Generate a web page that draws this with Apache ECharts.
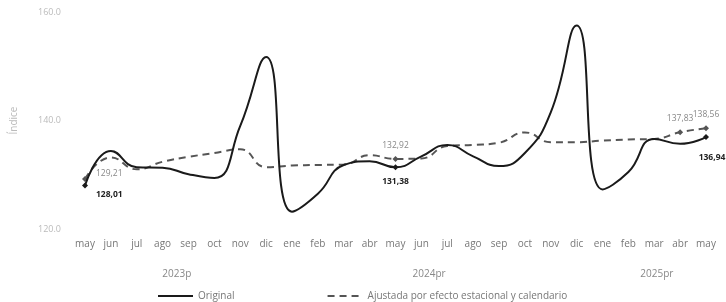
<!DOCTYPE html>
<html>
<head>
<meta charset="utf-8">
<script src="https://cdn.jsdelivr.net/npm/echarts@6/dist/echarts.min.js"></script>
<style>
  html, body { margin: 0; padding: 0; background: #fff; }
  #main { width: 726px; height: 302px; }
</style>
</head>
<body>
<div id="main"></div>
<script>
// meses (may 2023 - may 2025)
var months = ['may', 'jun', 'jul', 'ago', 'sep', 'oct', 'nov', 'dic', 'ene', 'feb', 'mar', 'abr',
    'may', 'jun', 'jul', 'ago', 'sep', 'oct', 'nov', 'dic', 'ene', 'feb', 'mar', 'abr', 'may'];
// indice original
var original = [128.01, 134.4, 131.4, 131.3, 130.1, 129.4, 139.0, 151.7, 123.2, 126.5, 131.8, 132.5,
    131.38, 133.4, 135.5, 133.4, 131.6, 134.0, 141.5, 157.5, 127.3, 130.5, 136.6, 135.7, 136.94];
// ajustada por efecto estacional y calendario
var adjusted = [129.21, 133.2, 131.0, 132.4, 133.3, 134.0, 134.7, 131.4, 131.7, 131.8, 131.9, 133.6,
    132.92, 133.0, 135.3, 135.5, 135.9, 137.8, 136.0, 136.0, 136.3, 136.5, 136.6, 137.83, 138.56];
// puntos con etiqueta
var originalLabeled = [0, 12, 24];
var adjustedLabeled = [0, 12, 23, 24];
// años bajo el eje
var years = ['2023p', '2024pr', '2025pr'];
var yearPos = [3.55, 13.3, 22.1];

function fmt(v) {
    return v.toFixed(2).replace('.', ',');
}

// etiqueta de cada punto: [posicion, offset]
function labelPlace(series, i, n) {
    if (i === 0) {
        return series === 'adj' ? ['right', [3, -5]] : ['right', [3, 9]];
    }
    if (series === 'orig' && i === n - 1) {
        return ['bottom', [6, 8]];
    }
    return series === 'adj' ? ['top', [0, -1]] : ['bottom', [0, 2]];
}

function buildData(values, labeled, series, color, weight) {
    var out = [];
    for (var i = 0; i < values.length; i++) {
        if (labeled.indexOf(i) >= 0) {
            var p = labelPlace(series, i, values.length);
            out.push({
                value: values[i],
                symbol: 'diamond',
                symbolSize: 6,
                label: {
                    show: true,
                    position: p[0],
                    offset: p[1],
                    formatter: fmt(values[i]),
                    color: color,
                    fontWeight: weight,
                    fontSize: 8.5,
                    fontFamily: 'Open Sans'
                }
            });
        } else {
            out.push(values[i]);
        }
    }
    return out;
}

var myChart = echarts.init(document.getElementById('main'));

var option = {
    animation: false,
    textStyle: { fontFamily: 'Open Sans' },
    grid: { left: 85, right: 20, top: 12, bottom: 73 },
    legend: {
        left: 152,
        top: 286,
        itemWidth: 35,
        itemHeight: 8,
        itemGap: 92,
        itemStyle: { opacity: 0 },
        textStyle: { color: '#777', fontSize: 10 },
        data: ['Original', 'Ajustada por efecto estacional y calendario']
    },
    xAxis: [{
        type: 'category',
        data: months,
        boundaryGap: false,
        axisLine: { show: false },
        axisTick: { show: false },
        axisLabel: { color: '#777', fontSize: 10, margin: 10, interval: 0 }
    }, {
        type: 'value',
        min: 0,
        max: 24,
        position: 'bottom',
        offset: 32,
        axisLine: { show: false },
        axisTick: { show: false },
        splitLine: { show: false },
        axisLabel: {
            customValues: yearPos,
            color: '#888',
            fontSize: 10,
            formatter: function (v) {
                return years[yearPos.indexOf(v)];
            }
        }
    }],
    yAxis: {
        type: 'value',
        min: 120,
        max: 160,
        interval: 20,
        name: 'Índice',
        nameLocation: 'middle',
        nameGap: 66,
        nameTextStyle: { color: '#bbb', fontSize: 10 },
        axisLine: { show: false },
        axisTick: { show: false },
        splitLine: { show: false },
        axisLabel: {
            color: '#bbb',
            fontSize: 9,
            margin: 24,
            formatter: function (v) { return v.toFixed(1); }
        }
    },
    series: [{
        name: 'Ajustada por efecto estacional y calendario',
        type: 'line',
        smooth: 0.5,
        symbol: 'none',
        itemStyle: { color: '#555' },
        lineStyle: { color: '#555', width: 2, type: [7, 5] },
        data: buildData(adjusted, adjustedLabeled, 'adj', '#888', 'normal'),
        z: 2
    }, {
        name: 'Original',
        type: 'line',
        smooth: 0.5,
        symbol: 'none',
        itemStyle: { color: '#1a1a1a' },
        lineStyle: { color: '#1a1a1a', width: 2 },
        data: buildData(original, originalLabeled, 'orig', '#222', 'bold'),
        z: 3
    }]
};

myChart.setOption(option);
</script>
</body>
</html>
